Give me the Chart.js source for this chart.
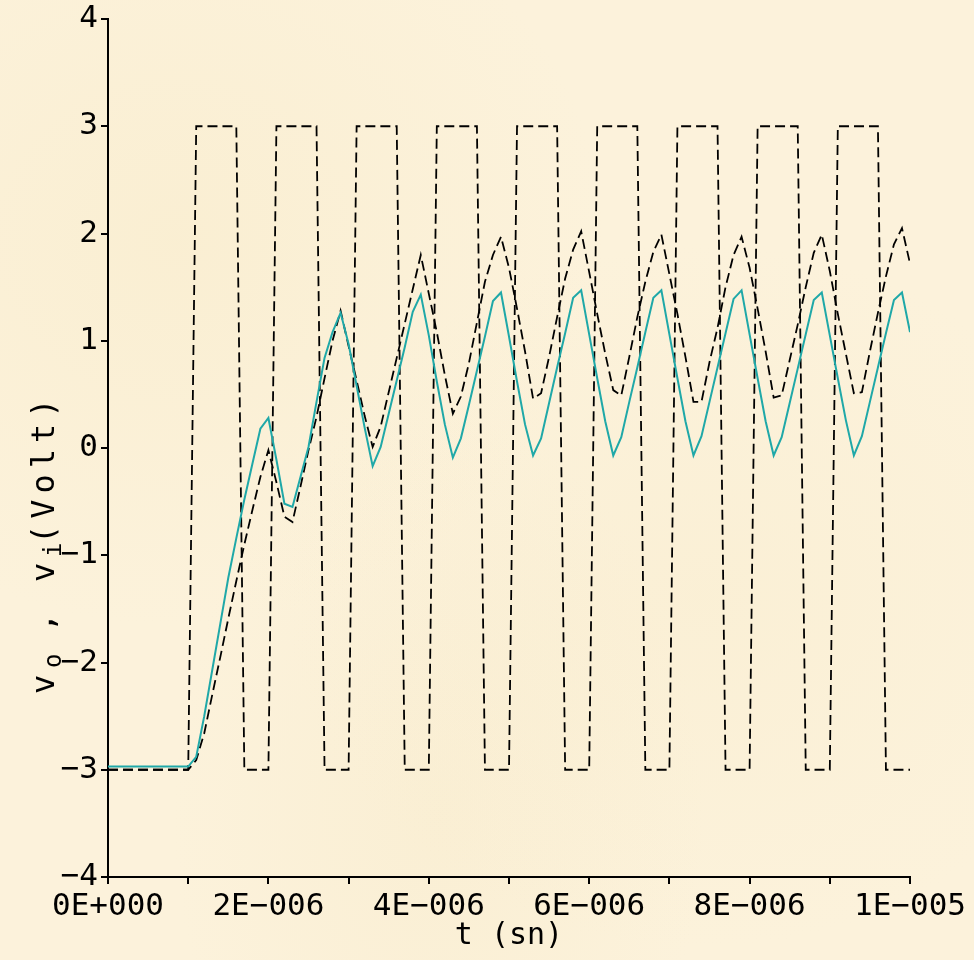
<!DOCTYPE html>
<html>
<head>
<meta charset="utf-8">
<script src="https://cdn.jsdelivr.net/npm/chart.js@4.4.1/dist/chart.umd.min.js"></script>
<style>
  html, body { margin: 0; padding: 0; }
  body {
    width: 974px; height: 960px; overflow: hidden;
    background:
      radial-gradient(ellipse at 18% 25%, rgba(246,232,194,0.35), transparent 38%),
      radial-gradient(ellipse at 72% 62%, rgba(247,234,200,0.30), transparent 42%),
      radial-gradient(ellipse at 45% 85%, rgba(245,231,195,0.30), transparent 35%),
      #fcf2db;
  }
</style>
</head>
<body>
<canvas id="chart" width="974" height="960"></canvas>
<script>
// time samples, microseconds (step 0.1 us)
const tUs = [
  0, 0.1, 0.2, 0.3, 0.4, 0.5, 0.6, 0.7, 0.8, 0.9,
  1, 1.1, 1.2, 1.3, 1.4, 1.5, 1.6, 1.7, 1.8, 1.9,
  2, 2.1, 2.2, 2.3, 2.4, 2.5, 2.6, 2.7, 2.8, 2.9,
  3, 3.1, 3.2, 3.3, 3.4, 3.5, 3.6, 3.7, 3.8, 3.9,
  4, 4.1, 4.2, 4.3, 4.4, 4.5, 4.6, 4.7, 4.8, 4.9,
  5, 5.1, 5.2, 5.3, 5.4, 5.5, 5.6, 5.7, 5.8, 5.9,
  6, 6.1, 6.2, 6.3, 6.4, 6.5, 6.6, 6.7, 6.8, 6.9,
  7, 7.1, 7.2, 7.3, 7.4, 7.5, 7.6, 7.7, 7.8, 7.9,
  8, 8.1, 8.2, 8.3, 8.4, 8.5, 8.6, 8.7, 8.8, 8.9,
  9, 9.1, 9.2, 9.3, 9.4, 9.5, 9.6, 9.7, 9.8, 9.9,
  10
];

// vi : square input
const vi = [
  -3, -3, -3, -3, -3, -3, -3, -3, -3, -3,
  -3, 3, 3, 3, 3, 3, 3, -3, -3, -3,
  -3, 3, 3, 3, 3, 3, 3, -3, -3, -3,
  -3, 3, 3, 3, 3, 3, 3, -3, -3, -3,
  -3, 3, 3, 3, 3, 3, 3, -3, -3, -3,
  -3, 3, 3, 3, 3, 3, 3, -3, -3, -3,
  -3, 3, 3, 3, 3, 3, 3, -3, -3, -3,
  -3, 3, 3, 3, 3, 3, 3, -3, -3, -3,
  -3, 3, 3, 3, 3, 3, 3, -3, -3, -3,
  -3, 3, 3, 3, 3, 3, 3, -3, -3, -3,
  -3
];

// second dashed trace
const vx = [
  -3, -3, -3, -3, -3, -3, -3, -3, -3, -3,
  -3, -2.91, -2.66, -2.30, -1.95, -1.59, -1.24, -0.90, -0.58, -0.27,
  -0.02, -0.32, -0.64, -0.69, -0.36, -0.02, 0.29, 0.65, 1.00, 1.28,
  0.95, 0.63, 0.30, 0.01, 0.20, 0.52, 0.84, 1.16, 1.48, 1.80,
  1.44, 1.08, 0.68, 0.32, 0.48, 0.79, 1.17, 1.55, 1.80, 1.97,
  1.68, 1.30, 0.90, 0.46, 0.51, 0.85, 1.22, 1.58, 1.85, 2.02,
  1.64, 1.25, 0.88, 0.54, 0.49, 0.85, 1.22, 1.55, 1.83, 1.99,
  1.62, 1.25, 0.85, 0.43, 0.43, 0.80, 1.12, 1.50, 1.80, 1.97,
  1.68, 1.30, 0.90, 0.47, 0.49, 0.82, 1.15, 1.50, 1.82, 1.99,
  1.65, 1.25, 0.88, 0.51, 0.52, 0.90, 1.26, 1.60, 1.90, 2.05,
  1.72
];

// vo : output (teal)
const vo = [
  -2.97, -2.97, -2.97, -2.97, -2.97, -2.97, -2.97, -2.97, -2.97, -2.97,
  -2.97, -2.88, -2.50, -2.07, -1.64, -1.21, -0.84, -0.48, -0.15, 0.18,
  0.28, -0.11, -0.52, -0.55, -0.27, 0.01, 0.43, 0.84, 1.08, 1.26,
  0.97, 0.58, 0.19, -0.17, 0.01, 0.32, 0.63, 0.94, 1.27, 1.43,
  1.05, 0.62, 0.22, -0.09, 0.09, 0.40, 0.72, 1.04, 1.37, 1.45,
  1.04, 0.62, 0.22, -0.07, 0.09, 0.42, 0.75, 1.07, 1.40, 1.47,
  1.06, 0.65, 0.25, -0.07, 0.10, 0.43, 0.75, 1.08, 1.40, 1.47,
  1.06, 0.65, 0.25, -0.07, 0.11, 0.43, 0.75, 1.07, 1.39, 1.47,
  1.06, 0.65, 0.25, -0.07, 0.10, 0.42, 0.74, 1.06, 1.38, 1.45,
  1.05, 0.65, 0.26, -0.07, 0.11, 0.43, 0.75, 1.07, 1.38, 1.45,
  1.08
];

const yTicks = [-4, -3, -2, -1, 0, 1, 2, 3, 4];
// text, subscript?, offset along the rotated baseline
const yTitleParts = [["v", false, 0], ["o", true, 26], [",", false, 62], ["v", false, 112], ["i", true, 137], ["(Volt)", false, 150]];

const pts = arr => arr.map((v, i) => ({ x: tUs[i], y: v }));

// x labels in seconds, every 2 us
function tLabel(v) {
  if (v === 0) return "0E+000";
  if (v % 2 !== 0) return "";
  if (v % 10 === 0) return (v / 10) + "E\u2212005";
  return v + "E\u2212006";
}

const monoFont = "'DejaVu Sans Mono', monospace";

const yTitlePlugin = {
  id: "yTitle",
  afterDraw(chart) {
    const ctx = chart.ctx;
    ctx.save();
    ctx.translate(54, 694);
    ctx.rotate(-Math.PI / 2);
    ctx.fillStyle = "#000";
    ctx.textAlign = "left";
    ctx.textBaseline = "alphabetic";
    for (const [txt, sub, off] of yTitleParts) {
      ctx.font = (sub ? 24 : 32) + "px " + monoFont;
      ctx.letterSpacing = txt.length > 1 ? "6px" : "0px";
      ctx.fillText(txt, off, sub ? 7 : 0);
    }
    ctx.restore();
  }
};

new Chart(document.getElementById("chart"), {
  type: "line",
  data: {
    datasets: [
      { data: pts(vo), borderColor: "#1fa8a8", borderWidth: 2 },
      { data: pts(vx), borderColor: "#000", borderWidth: 1.8, borderDash: [10, 5] },
      { data: pts(vi), borderColor: "#000", borderWidth: 1.8, borderDash: [10, 5] }
    ]
  },
  options: {
    animation: false,
    responsive: false,
    parsing: false,
    elements: { point: { radius: 0 }, line: { tension: 0, fill: false } },
    layout: { padding: { top: 19, right: 64, bottom: 0, left: 0 } },
    plugins: { legend: { display: false }, tooltip: { enabled: false } },
    scales: {
      x: {
        type: "linear",
        min: 0,
        max: 10,
        ticks: {
          stepSize: 1,
          autoSkip: false,
          maxRotation: 0,
          padding: 4,
          color: "#000",
          font: { family: monoFont, size: 31 },
          callback: v => tLabel(v)
        },
        grid: { drawOnChartArea: false, drawTicks: true, tickLength: 7, color: "#000", lineWidth: 2 },
        border: { display: true, color: "#000", width: 2 },
        title: {
          display: true,
          text: "t (sn)",
          color: "#000",
          font: { family: monoFont, size: 30, lineHeight: 1 },
          padding: { top: 0, bottom: 9 }
        },
        afterFit(s) { s.height = 83; s.paddingLeft = 0; s.paddingRight = 0; }
      },
      y: {
        type: "linear",
        min: -4,
        max: 4,
        afterBuildTicks(s) { s.ticks = yTicks.map(v => ({ value: v })); },
        ticks: {
          padding: 3,
          color: "#000",
          font: { family: monoFont, size: 31 },
          callback: v => (v < 0 ? "\u2212" + Math.abs(v) : String(v))
        },
        grid: { drawOnChartArea: false, drawTicks: true, tickLength: 7, color: "#000", lineWidth: 2 },
        border: { display: true, color: "#000", width: 2 },
        afterFit(s) { s.width = 108; s.paddingTop = 0; s.paddingBottom = 0; }
      }
    }
  },
  plugins: [yTitlePlugin]
});
</script>
</body>
</html>
